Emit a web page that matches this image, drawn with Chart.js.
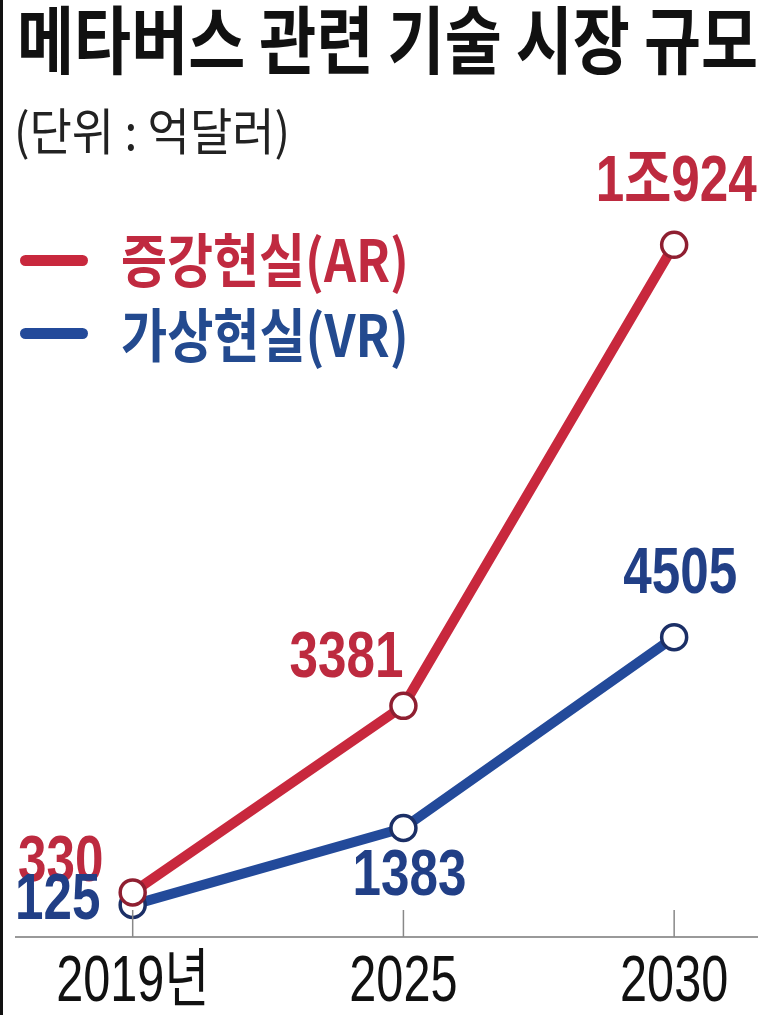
<!DOCTYPE html>
<html>
<head>
<meta charset="utf-8">
<script src="https://cdn.jsdelivr.net/npm/chart.js@4.4.0/dist/chart.umd.min.js"></script>
<style>
  body { margin: 0; background: #fff; }
  #wrap { position: relative; width: 773px; height: 1015px; overflow: hidden; background: #fff; }
  #chart { position: absolute; left: 0; top: 0; }
  .txt { position: absolute; white-space: nowrap; line-height: 1; transform-origin: 0 0;
         font-family: "Noto Sans CJK KR", "Noto Sans", sans-serif; }
  .dash { position: absolute; height: 11px; border-radius: 6px; }
  #edge { position: absolute; left: 0; top: 0; width: 3px; height: 1015px; background: #111; }
</style>
</head>
<body>
<div id="wrap">
  <canvas id="chart" width="773" height="1015"></canvas>
  <div class="txt" id="title" data-w="741" style="left:17px;top:-1px;font-size:74px;font-weight:bold;color:#111;">메타버스 관련 기술 시장 규모</div>
  <div class="txt" id="unit" data-w="276" style="left:14px;top:103px;font-size:50px;color:#222;">(단위 : 억달러)</div>
  <div class="dash" style="left:20px;top:255px;width:68px;background:#c8283d;"></div>
  <div class="txt" id="lgAR" data-w="288" style="left:121px;top:228px;font-size:58px;font-weight:bold;color:#c02a40;">증강현실(AR)</div>
  <div class="dash" style="left:20px;top:328px;width:68px;background:#234a9a;"></div>
  <div class="txt" id="lgVR" data-w="288" style="left:121px;top:303px;font-size:58px;font-weight:bold;color:#234a8f;">가상현실(VR)</div>
  <div id="edge"></div>
</div>
<script>
// 단위: 억달러
const categories = ['2019년', '2025', '2030'];
const arValues = [330, 3381, 10924];
const vrValues = [125, 1383, 4505];

// squeeze the html text to the widths in the picture
document.querySelectorAll('.txt').forEach(function(el) {
    const w = parseFloat(el.dataset.w);
    el.style.transform = 'scaleX(' + (w / el.offsetWidth) + ')';
});

function toPoints(values) {
    return values.map(function(v, i) { return { x: i, y: v }; });
}

function fmt(v) {
    if (v >= 10000) return Math.floor(v / 10000) + '조' + (v % 10000);
    return String(v);
}

// label offsets from each point [dataset][index]
const labelOffsets = [
    [[-72, -32], [-57, -50], [2, -64]],
    [[-75, -7], [6, 46], [6, -65]]
];

function narrowText(ctx, text, x, y, sx, font, color) {
    ctx.save();
    ctx.translate(x, y);
    ctx.scale(sx, 1);
    ctx.font = font;
    ctx.fillStyle = color;
    ctx.textAlign = 'center';
    ctx.textBaseline = 'middle';
    ctx.fillText(text, 0, 0);
    ctx.restore();
}

const valueLabels = {
    id: 'valueLabels',
    afterDatasetsDraw(chart) {
        const ctx = chart.ctx;
        chart.data.datasets.forEach(function(ds, di) {
            const meta = chart.getDatasetMeta(di);
            meta.data.forEach(function(pt, i) {
                const off = labelOffsets[di][i];
                narrowText(ctx, fmt(ds.data[i].y), pt.x + off[0], pt.y + off[1] + 3, 0.8,
                    'bold 64px "Liberation Sans", "Noto Sans CJK KR", sans-serif', ds.labelColor);
            });
        });
    }
};

// short tick marks pointing up and narrow category labels under the axis
const xAxisDeco = {
    id: 'xAxisDeco',
    afterDraw(chart) {
        const ctx = chart.ctx;
        const xs = chart.scales.x;
        const base = chart.chartArea.bottom;
        xs.ticks.forEach(function(t, i) {
            const px = xs.getPixelForTick(i);
            ctx.save();
            ctx.strokeStyle = '#888';
            ctx.lineWidth = 1.5;
            ctx.beginPath();
            ctx.moveTo(px, base - 27);
            ctx.lineTo(px, base);
            ctx.stroke();
            ctx.restore();
            narrowText(ctx, categories[t.value], px, base + 46, 0.76,
                '64px "Liberation Sans", "Noto Sans CJK KR", sans-serif', '#111');
        });
    }
};

new Chart(document.getElementById('chart').getContext('2d'), {
    type: 'line',
    data: {
        datasets: [{
            label: '증강현실(AR)',
            data: toPoints(arValues),
            borderColor: '#c8283d',
            borderWidth: 10,
            pointRadius: 12.5,
            pointBorderWidth: 3.5,
            pointBorderColor: '#8f1f31',
            pointBackgroundColor: '#fff',
            labelColor: '#bd2a3f',
            borderJoinStyle: 'round',
            borderCapStyle: 'round',
            clip: false
        }, {
            label: '가상현실(VR)',
            data: toPoints(vrValues),
            borderColor: '#234a9a',
            borderWidth: 10,
            pointRadius: 12.5,
            pointBorderWidth: 3.5,
            pointBorderColor: '#1b2f66',
            pointBackgroundColor: '#fff',
            labelColor: '#213f86',
            borderJoinStyle: 'round',
            borderCapStyle: 'round',
            clip: false
        }]
    },
    options: {
        responsive: false,
        animation: false,
        layout: { padding: { left: 15, right: 15, top: 179, bottom: 78 } },
        plugins: { legend: { display: false }, tooltip: { enabled: false } },
        scales: {
            x: {
                type: 'linear',
                min: -0.431,
                max: 2.306,
                afterBuildTicks: function(scale) {
                    scale.ticks = categories.map(function(c, i) { return { value: i }; });
                },
                ticks: { display: false },
                grid: { display: false, drawTicks: false, tickLength: 0 },
                border: { display: true, color: '#999', width: 2 }
            },
            y: {
                display: false,
                min: -400,
                max: 12000
            }
        }
    },
    plugins: [valueLabels, xAxisDeco]
});
</script>
</body>
</html>
